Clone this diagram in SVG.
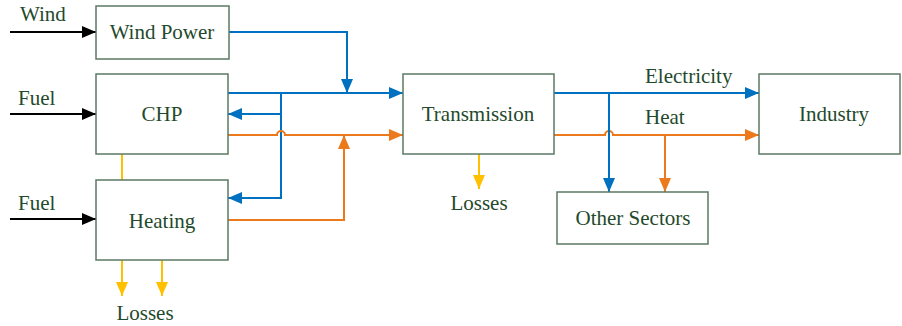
<svg xmlns="http://www.w3.org/2000/svg" width="902" height="326" viewBox="0 0 902 326">
<defs>
<style>
.box{fill:#fff;stroke:#5b7a66;stroke-width:1.5}
.t{font-size:21px;fill:#1f4a2c}
.c{text-anchor:middle}
.k{fill:none;stroke:#000;stroke-width:2}
.b{fill:none;stroke:#0070C0;stroke-width:2}
.o{fill:none;stroke:#EC7A1C;stroke-width:2}
.y{fill:none;stroke:#FFC000;stroke-width:2}
</style>
<marker id="ak" markerUnits="userSpaceOnUse" markerWidth="14" markerHeight="12" viewBox="0 0 14 12" refX="14" refY="6" orient="auto"><path d="M0,0L14,6L0,12z" fill="#000"/></marker>
<marker id="ab" markerUnits="userSpaceOnUse" markerWidth="14" markerHeight="12" viewBox="0 0 14 12" refX="14" refY="6" orient="auto"><path d="M0,0L14,6L0,12z" fill="#0070C0"/></marker>
<marker id="ao" markerUnits="userSpaceOnUse" markerWidth="14" markerHeight="12" viewBox="0 0 14 12" refX="14" refY="6" orient="auto"><path d="M0,0L14,6L0,12z" fill="#EC7A1C"/></marker>
<marker id="ay" markerUnits="userSpaceOnUse" markerWidth="14" markerHeight="12" viewBox="0 0 14 12" refX="14" refY="6" orient="auto"><path d="M0,0L14,6L0,12z" fill="#FFC000"/></marker>
</defs>
<rect width="902" height="326" fill="#fff"/>
<g id="connectors">
<path class="k" d="M10,32H96" marker-end="url(#ak)"/>
<path class="k" d="M10,114H96" marker-end="url(#ak)"/>
<path class="k" d="M10,219H96" marker-end="url(#ak)"/>
<path class="b" d="M229,32H347V93" marker-end="url(#ab)"/>
<path class="b" d="M228,93H403" marker-end="url(#ab)"/>
<path class="b" d="M281,93V198H228" marker-end="url(#ab)"/>
<path class="b" d="M281,114H228" marker-end="url(#ab)"/>
<path class="o" d="M228,135H277a4,4 0 0 1 8,0H403" marker-end="url(#ao)"/>
<path class="o" d="M228,220H344V135" marker-end="url(#ao)"/>
<path class="b" d="M554,93H759" marker-end="url(#ab)"/>
<path class="o" d="M554,135H605a4,4 0 0 1 8,0H759" marker-end="url(#ao)"/>
<path class="b" d="M609,93V192" marker-end="url(#ab)"/>
<path class="o" d="M665,135V192" marker-end="url(#ao)"/>
<path class="y" d="M122,154V180"/>
<path class="y" d="M122,260V296" marker-end="url(#ay)"/>
<path class="y" d="M162,260V296" marker-end="url(#ay)"/>
<path class="y" d="M479,154V189" marker-end="url(#ay)"/>
</g>
<g font-family="Liberation Serif, Times New Roman, DejaVu Serif, serif">
<g id="wind-power"><rect class="box" x="96" y="6" width="133" height="53"/><text class="t c" x="162" y="39">Wind Power</text></g>
<g id="chp"><rect class="box" x="96" y="74" width="132" height="80"/><text class="t c" x="162" y="121">CHP</text></g>
<g id="heating"><rect class="box" x="96" y="180" width="132" height="80"/><text class="t c" x="162" y="228">Heating</text></g>
<g id="transmission"><rect class="box" x="403" y="74" width="151" height="80"/><text class="t c" x="478" y="121">Transmission</text></g>
<g id="industry"><rect class="box" x="759" y="74" width="141" height="80"/><text class="t c" x="834" y="121">Industry</text></g>
<g id="other-sectors"><rect class="box" x="557" y="192" width="151" height="52"/><text class="t c" x="633" y="225">Other Sectors</text></g>
<g id="labels">
<text class="t" x="20" y="21">Wind</text>
<text class="t" x="18" y="105">Fuel</text>
<text class="t" x="18" y="210">Fuel</text>
<text class="t" x="645" y="83">Electricity</text>
<text class="t" x="645" y="124">Heat</text>
<text class="t c" x="479" y="210">Losses</text>
<text class="t c" x="145" y="320">Losses</text>
</g>
</g>
</svg>
